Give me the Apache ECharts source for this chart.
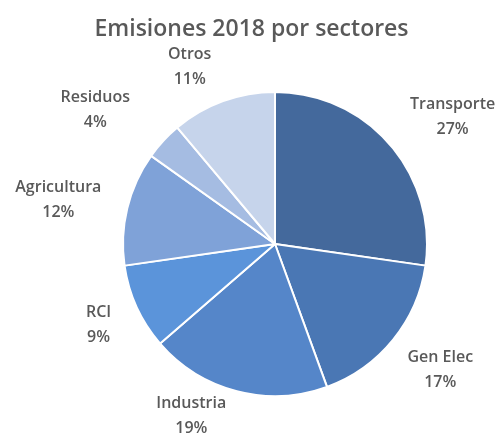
<!DOCTYPE html>
<html>
<head>
<meta charset="utf-8">
<script src="https://cdn.jsdelivr.net/npm/echarts@6/dist/echarts.min.js"></script>
<style>
  html, body { margin: 0; padding: 0; background: #fff; }
  #chart { width: 503px; height: 438px; }
</style>
</head>
<body>
<div id="chart"></div>
<script>
var sectores = ['Transporte', 'Gen Elec', 'Industria', 'RCI', 'Agricultura', 'Residuos', 'Otros']
var porcentajes = [27, 17, 19, 9, 12, 4, 11]

// estilo: colores y distancia de las etiquetas (largo radial, desplazamiento horizontal)
var colores = ['#44699c', '#4a77b4', '#5586c9', '#5b94da', '#7fa2d8', '#a5bce2', '#c6d4eb']
var etiquetaLargo = [42, 48, 26, 42, 37, 45, 36]
var etiquetaLargo2 = [31, 10, 39, 0, 33, 35, 21]

var chart = echarts.init(document.getElementById('chart'))

var option = {
  animation: false,
  title: {
    text: 'Emisiones 2018 por sectores',
    left: 'center',
    top: 13,
    textStyle: {
      fontFamily: 'Open Sans',
      fontSize: 23,
      fontWeight: 600,
      color: '#595959'
    }
  },
  series: [
    {
      type: 'pie',
      center: [275, 244],
      radius: 152,
      startAngle: 90,
      clockwise: true,
      avoidLabelOverlap: false,
      data: sectores.map(function (name, i) {
        return {
          name: name,
          value: porcentajes[i],
          itemStyle: { color: colores[i] },
          labelLine: { length: etiquetaLargo[i], length2: etiquetaLargo2[i] }
        }
      }),
      itemStyle: {
        borderColor: '#fff',
        borderWidth: 2
      },
      label: {
        show: true,
        position: 'outside',
        overflow: 'none',
        distanceToLabelLine: 0,
        formatter: function (p) {
          return p.name + '\n' + porcentajes[p.dataIndex] + '%'
        },
        fontFamily: 'Open Sans',
        fontSize: 16,
        fontWeight: 600,
        lineHeight: 25,
        color: '#595959'
      },
      labelLine: {
        show: false
      },
      labelLayout: {
        align: 'center',
        hideOverlap: false
      },
      emphasis: { disabled: true }
    }
  ]
}

chart.setOption(option, true)
</script>
</body>
</html>
